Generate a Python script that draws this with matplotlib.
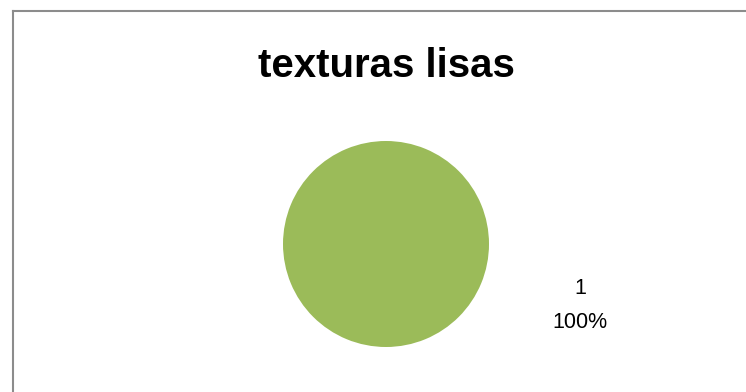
import matplotlib.pyplot as plt
from matplotlib.lines import Line2D

# datos del gráfico
categorias = ['1']
valores = [1]
porcentajes = ['100%']
titulo = 'texturas lisas'

W, H = 746, 392
fig = plt.figure(figsize=(W / 100, H / 100), dpi=100)

# marco gris (sólo bordes superior e izquierdo visibles)
fig.add_artist(Line2D([12.5 / W, 12.5 / W], [0, 1 - 10.5 / H], transform=fig.transFigure,
                      color='#8c8c8c', lw=1.5))
fig.add_artist(Line2D([12.5 / W, 1], [1 - 10.5 / H, 1 - 10.5 / H], transform=fig.transFigure,
                      color='#8c8c8c', lw=1.5))

fig.text(386 / W, 1 - 66 / H, titulo, ha='center', va='center',
         fontsize=29, fontweight='bold', family='Liberation Sans')

# pastel
cx, cy, r = 386, 244, 103
ax = fig.add_axes([(cx - r) / W, 1 - (cy + r) / H, 2 * r / W, 2 * r / H])
ax.pie(valores, colors=['#9bbb59'], radius=1, startangle=90)
ax.set_xlim(-1, 1)
ax.set_ylim(-1, 1)
ax.set_aspect('equal')
ax.axis('off')

# etiqueta de datos
fig.text(580 / W, 1 - 288 / H, categorias[0], ha='center', va='center',
         fontsize=15.5, family='Liberation Sans')
fig.text(580 / W, 1 - 322 / H, porcentajes[0], ha='center', va='center',
         fontsize=15.5, family='Liberation Sans')

fig.savefig('out.png', dpi=100)
